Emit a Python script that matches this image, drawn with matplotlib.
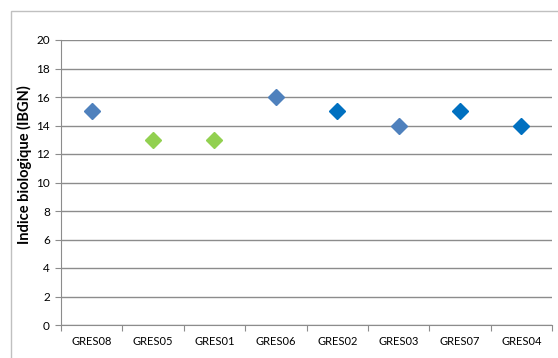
import matplotlib
matplotlib.use("Agg")
import matplotlib.pyplot as plt
from matplotlib.patches import Rectangle

stations = ["GRES08", "GRES05", "GRES01", "GRES06", "GRES02", "GRES03", "GRES07", "GRES04"]
ibgn = [15, 13, 13, 16, 15, 14, 15, 14]
colors = ["#4F81BD", "#92D050", "#92D050", "#4F81BD", "#0070C0", "#4F81BD", "#0070C0", "#0070C0"]
yticks = [0, 2, 4, 6, 8, 10, 12, 14, 16, 18, 20]

plt.rcParams["font.family"] = ["Lato", "DejaVu Sans"]

fig = plt.figure(figsize=(5.58, 3.58), dpi=100)
fig.patch.set_facecolor("white")

# outer chart border (only top and left edges visible in the crop)
fig.patches.append(Rectangle((11 / 558, -0.1), 1.2, 1 - 11 / 358 + 0.1,
                             transform=fig.transFigure, fill=False,
                             edgecolor="#C0C0C0", linewidth=1))

ax = fig.add_axes([61 / 558, 1 - 325 / 358, 491 / 558, 285 / 358])

x = range(len(stations))
for i in x:
    ax.plot(i, ibgn[i], marker="D", markersize=8.5, color=colors[i], linestyle="none")

ax.set_xlim(-0.5, len(stations) - 0.5)
ax.set_ylim(0, 20)
ax.set_yticks(yticks)
ax.set_yticklabels([str(v) for v in yticks], fontsize=8.5)
ax.yaxis.grid(True, color="#8C8C8C", linewidth=1)
ax.set_axisbelow(True)

ax.set_xticks([i - 0.5 for i in range(len(stations) + 1)])
ax.set_xticklabels([])
ax.set_xticks(list(x), minor=True)
ax.set_xticklabels(stations, minor=True, fontsize=8)
ax.tick_params(axis="x", which="major", length=4, color="#8C8C8C", direction="out")
ax.tick_params(axis="x", which="minor", length=0, pad=8)
ax.tick_params(axis="y", length=4, color="#8C8C8C", pad=4)

for side in ["top", "right"]:
    ax.spines[side].set_visible(False)
ax.spines["left"].set_color("#8C8C8C")
ax.spines["bottom"].set_color("#8C8C8C")

ax.set_ylabel("Indice biologique (IBGN)", fontsize=10.5, fontweight="bold")
ax.yaxis.set_label_coords(-0.059, 0.561)

fig.savefig("out.png", dpi=100, facecolor="white")
